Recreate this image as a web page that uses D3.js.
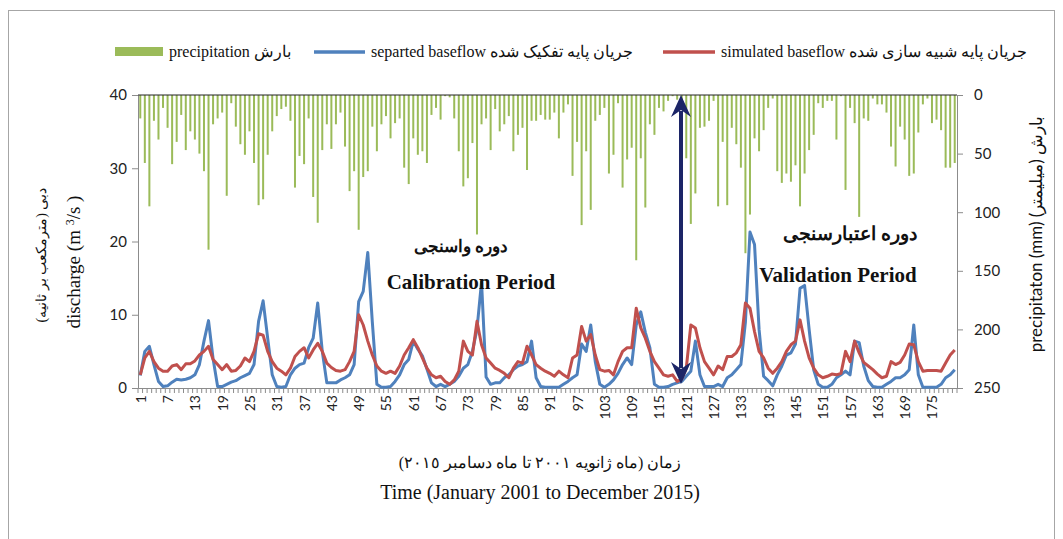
<!DOCTYPE html>
<html><head><meta charset="utf-8">
<script src="https://cdn.jsdelivr.net/npm/d3@7"></script>
<style>body{margin:0;background:#fff}svg{display:block}</style>
</head><body><svg id="c" width="1063" height="539"></svg>
<script>
const precipitation = [20,58,95,22,38,11,28,59,40,17,47,31,38,50,65,132,25,20,15,86,7,27,42,51,31,58,94,89,51,31,18,12,10,22,79,52,59,20,87,109,47,25,46,25,15,44,82,65,115,70,65,27,48,25,18,37,24,20,62,76,37,51,48,58,17,11,21,1,2,20,48,78,71,41,119,25,20,47,12,31,25,18,48,34,28,64,22,22,17,21,21,15,37,15,8,69,40,111,48,98,22,17,11,67,51,7,79,55,45,141,54,96,25,34,11,14,5,1,4,8,54,110,84,28,27,22,5,95,40,94,28,42,62,135,102,37,48,30,11,3,65,75,67,74,60,95,67,47,34,7,11,5,5,38,1,81,11,24,104,20,22,3,8,8,15,44,61,27,38,69,67,32,8,3,24,21,30,62,62,58];
const separatedBaseflow = [1.7,5.0,5.7,3.2,0.9,0.2,0.3,0.8,1.2,1.1,1.2,1.4,1.8,3.2,6.4,9.2,4.0,0.2,0.2,0.5,0.8,1.0,1.4,1.7,2.0,3.2,9.1,11.9,6.8,1.8,0.2,0.1,0.2,1.8,2.7,3.2,3.4,5.5,6.8,11.6,5.0,0.7,0.7,0.7,1.1,1.4,1.8,3.2,11.8,13.2,18.5,9.0,0.5,0.1,0.1,0.2,0.9,1.8,3.2,3.9,6.4,5.3,4.4,2.6,0.7,0.2,0.5,0.2,0.5,0.9,1.6,2.7,3.2,5.0,8.0,14.5,1.5,0.5,0.7,0.7,1.4,1.8,2.5,3.0,3.2,3.6,6.4,1.4,0.2,0.1,0.1,0.1,0.1,0.5,0.9,1.4,1.8,6.0,5.0,8.6,3.6,0.5,0.1,0.5,1.1,2.0,3.2,4.1,3.2,8.6,10.4,7.6,5.5,0.5,0.1,0.1,0.2,0.5,0.7,0.9,1.6,2.3,6.4,1.8,0.2,0.2,0.2,0.5,0.2,1.4,1.8,2.5,3.2,9.0,21.3,19.6,8.0,1.6,1.0,0.3,1.8,3.0,4.5,4.8,6.0,13.6,14.0,8.0,2.5,0.5,0.1,0.1,0.5,1.4,1.8,2.3,1.8,6.4,6.2,3.0,1.0,0.2,0.1,0.1,0.5,0.9,1.4,1.4,1.8,2.5,8.6,1.8,0.1,0.1,0.1,0.1,0.5,1.4,1.8,2.5];
const simulatedBaseflow = [1.8,4.1,5.0,3.6,2.7,2.3,2.3,3.0,3.2,2.5,3.3,3.3,3.7,4.5,5.0,5.7,3.9,3.2,2.5,3.2,2.3,2.4,3.0,4.1,3.6,5.0,7.4,7.2,5.0,3.6,2.7,2.3,1.8,2.7,4.3,5.0,5.5,4.1,5.2,6.1,5.0,3.4,2.8,2.4,2.3,2.5,3.6,5.0,10.0,8.6,6.4,4.5,3.0,2.3,2.0,2.3,2.0,3.0,4.5,5.5,6.6,5.5,4.1,2.7,1.8,1.4,1.6,0.9,0.5,1.1,2.3,6.4,5.0,4.5,9.1,5.9,4.1,3.4,2.7,2.4,2.0,1.4,2.7,3.6,3.4,5.7,4.5,3.2,2.7,2.3,2.0,1.6,2.3,1.8,1.4,4.1,4.5,8.4,6.4,7.3,4.5,2.5,2.3,2.4,1.8,3.6,5.0,5.5,5.5,10.9,8.2,6.8,5.0,3.6,2.7,1.8,1.6,1.8,0.9,1.2,2.7,8.6,8.2,5.5,3.6,2.7,1.8,3.0,2.5,4.3,4.3,4.8,5.9,11.6,10.9,7.7,5.0,4.1,2.7,2.0,2.7,3.6,5.0,5.9,6.4,9.3,6.4,4.1,2.7,1.8,1.4,1.6,1.9,1.8,2.0,5.0,3.6,6.4,4.8,3.5,3.0,2.5,1.9,1.4,1.6,3.6,3.2,3.5,4.5,6.0,5.9,3.6,2.3,2.4,2.4,2.4,2.3,3.4,4.5,5.2];
const months = precipitation.map((d, i) => i + 1);
const xTickLabels = [1,7,13,19,25,31,37,43,49,55,61,67,73,79,85,91,97,103,109,115,121,127,133,139,145,151,157,163,169,175];
const leftTicks = [0,10,20,30,40];
const rightTicks = [0,50,100,150,200,250];

const svg = d3.select("#c");
const L = 138, R = 957, T = 95, B = 388;
const x = d3.scaleBand().domain(months).range([L, R]).padding(0);
const yL = d3.scaleLinear().domain([0, 40]).range([B, T]);
const yR = d3.scaleLinear().domain([0, 250]).range([T, B]);
const cx = m => x(m) + x.bandwidth() / 2;
const axisCol = "#8c8c8c";

svg.append("rect").attr("x", 8.5).attr("y", 10.5).attr("width", 1046).attr("height", 540)
  .attr("fill", "none").attr("stroke", "#a6a6a6").attr("stroke-width", 1);

// bars
svg.append("g").selectAll("rect").data(precipitation).join("rect")
  .attr("x", (d, i) => cx(months[i]) - 1)
  .attr("y", yR(0))
  .attr("width", 2)
  .attr("height", d => yR(d) - yR(0))
  .attr("fill", "#9bbb59");

// axes
const gL = svg.append("g").attr("transform", `translate(${L},0)`)
  .call(d3.axisLeft(yL).tickValues(leftTicks).tickSize(6).tickPadding(5));
const gR = svg.append("g").attr("transform", `translate(${R},0)`)
  .call(d3.axisRight(yR).tickValues(rightTicks).tickSize(6).tickPadding(11));
[gL, gR].forEach(g => {
  g.select(".domain").attr("stroke", axisCol);
  g.selectAll(".tick line").attr("stroke", axisCol);
  g.selectAll("text").attr("font-family", "Lato, 'Open Sans', sans-serif").attr("font-size", 15).attr("fill", "#222");
});
const gB = svg.append("g").attr("transform", `translate(0,${B})`)
  .call(d3.axisBottom(x).tickValues([]).tickSizeOuter(0));
gB.select(".domain").attr("stroke", axisCol);
gB.selectAll("line.mt").data(months.concat([181])).join("line").attr("class", "mt")
  .attr("x1", m => m <= 180 ? x(m) : R).attr("x2", m => m <= 180 ? x(m) : R)
  .attr("y1", 0).attr("y2", 5).attr("stroke", axisCol);
gB.selectAll("text.lbl").data(xTickLabels).join("text").attr("class", "lbl")
  .attr("transform", m => `translate(${cx(m)},7) rotate(-90)`)
  .attr("text-anchor", "end").attr("dominant-baseline", "central")
  .attr("font-family", "Lato, 'Open Sans', sans-serif").attr("font-size", 14).attr("fill", "#222")
  .text(m => m);
svg.append("line").attr("x1", L).attr("x2", R).attr("y1", T).attr("y2", T).attr("stroke", "#222");

// lines
const lineGen = arr => d3.line().x((d, i) => cx(months[i])).y(d => yL(d))(arr);
svg.append("path").attr("d", lineGen(separatedBaseflow)).attr("fill", "none")
  .attr("stroke", "#4f81bd").attr("stroke-width", 3).attr("stroke-linejoin", "round");
svg.append("path").attr("d", lineGen(simulatedBaseflow)).attr("fill", "none")
  .attr("stroke", "#c0504d").attr("stroke-width", 3).attr("stroke-linejoin", "round");

// arrow
const ax = 681, navy = "#1c2567";
svg.append("line").attr("x1", ax).attr("x2", ax).attr("y1", T + 16).attr("y2", 384 - 16)
  .attr("stroke", navy).attr("stroke-width", 4);
svg.append("path").attr("d", `M${ax},${T} L${ax - 10},${T + 22} L${ax},${T + 15} L${ax + 10},${T + 22} Z`).attr("fill", navy);
svg.append("path").attr("d", `M${ax},384 L${ax - 10},362 L${ax},369 L${ax + 10},362 Z`).attr("fill", navy);

// annotations
const serif = "'Liberation Serif', 'Times New Roman', 'DejaVu Serif', serif";
const ann = (t, X, Y, s, dir) => svg.append("text").attr("x", X).attr("y", Y)
  .attr("text-anchor", "middle").attr("font-family", serif).attr("font-weight", "bold")
  .attr("font-size", s).attr("direction", dir || "ltr").attr("fill", "#111").text(t);
ann("دوره واسنجی", 461, 252, 17, "rtl");
ann("Calibration Period", 471, 289, 21);
ann("دوره اعتبارسنجی", 850, 240, 19, "rtl");
ann("Validation Period", 838, 282, 21);

// axis titles
svg.append("text").attr("transform", "translate(80,262) rotate(-90)").attr("text-anchor", "middle")
  .attr("font-family", serif).attr("font-size", 19).attr("fill", "#111")
  .call(t => { t.append("tspan").text("discharge (m "); t.append("tspan").attr("font-size", 12).attr("dy", -6).text("3"); t.append("tspan").attr("dy", 6).text("/s )"); });
svg.append("text").attr("transform", "translate(46,255) rotate(-90)").attr("text-anchor", "middle")
  .attr("direction", "rtl").attr("font-family", serif).attr("font-size", 14).attr("fill", "#111")
  .text("دبی (مترمکعب بر ثانیه)");
svg.append("text").attr("transform", "translate(1042,234) rotate(-90)").attr("text-anchor", "middle")
  .attr("font-family", "Lato, 'Open Sans', sans-serif").attr("font-size", 17).attr("fill", "#111")
  .text("precipitaton (mm) بارش (میلیمتر)\u200F");
svg.append("text").attr("x", 540).attr("y", 468).attr("text-anchor", "middle").attr("direction", "rtl")
  .attr("font-family", serif).attr("font-size", 16).attr("fill", "#111")
  .text("زمان (ماه  ژانویه ٢٠٠١ تا  ماه دسامبر ٢٠١٥)");
svg.append("text").attr("x", 540).attr("y", 499).attr("text-anchor", "middle")
  .attr("font-family", serif).attr("font-size", 20).attr("fill", "#111")
  .text("Time (January 2001 to December 2015)");

// legend
const lg = svg.append("g").attr("font-family", serif).attr("font-size", 16).attr("fill", "#111");
lg.append("rect").attr("x", 115).attr("y", 47).attr("width", 48).attr("height", 9).attr("fill", "#9bbb59");
lg.append("text").attr("x", 169).attr("y", 57).text("precipitation بارش");
lg.append("line").attr("x1", 314).attr("x2", 365).attr("y1", 52).attr("y2", 52).attr("stroke", "#4f81bd").attr("stroke-width", 3.5);
lg.append("text").attr("x", 371).attr("y", 57).text("separted baseflow جریان پایه تفکیک شده");
lg.append("line").attr("x1", 663).attr("x2", 715).attr("y1", 52).attr("y2", 52).attr("stroke", "#c0504d").attr("stroke-width", 3.5);
lg.append("text").attr("x", 721).attr("y", 57).text("simulated baseflow جریان پایه شبیه سازی شده");
</script></body></html>
